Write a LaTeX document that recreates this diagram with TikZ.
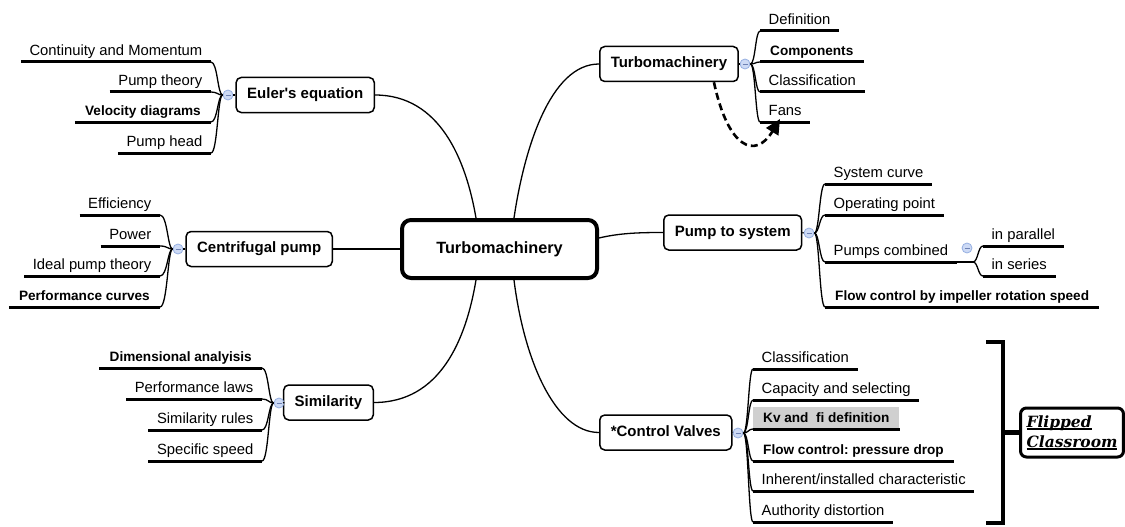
\documentclass[tikz,border=0pt]{standalone}
\usepackage{fontspec}
\setmainfont{Liberation Sans}[Ligatures=TeXOff]
\newfontfamily\flipfont{DejaVu Serif}
\usetikzlibrary{calc,arrows.meta}
\frenchspacing
\definecolor{kvgray}{RGB}{208,208,208}
\definecolor{colfill}{RGB}{205,218,245}
\definecolor{coldraw}{RGB}{150,175,225}
\definecolor{colminus}{RGB}{110,130,180}
\newcommand{\leafnode}[6]{%
  \node[leaf,#5,anchor=#2] (#1) at (#3,#4) {#6};
  \draw[ul] (#1.south west) -- (#1.south east);}
\newcommand{\conL}[2]{\draw[cn] (#1.south east) .. controls (#2c |- #1.south east) and (#2c) .. (#2);}
\newcommand{\conR}[2]{\draw[cn] (#2) .. controls (#2c) and (#2c |- #1.south west) .. (#1.south west);}
\newcommand{\ulw}[1]{\setbox0=\hbox{#1}\rlap{\rule[-2.5pt]{\wd0}{1.3pt}}\box0}
\begin{document}
\begin{tikzpicture}[x=1pt,y=-1pt,
  cn/.style={line width=1.3pt},
  ul/.style={line width=3pt},
  box/.style={draw, line width=1.5pt, rounded corners=5pt, minimum height=35pt, inner xsep=11pt, inner ysep=0pt, text height=11pt, text depth=3.5pt, font=\fontsize{15}{18}\selectfont\bfseries},
  root/.style={draw, line width=4pt, rounded corners=9pt, minimum width=195pt, minimum height=58pt, font=\fontsize{16.3}{19}\selectfont\bfseries},
  leaf/.style={inner ysep=0pt, inner xsep=8.5pt, text height=15pt, text depth=6.5pt, font=\fontsize{14.8}{17}\selectfont},
  lb/.style={inner xsep=10pt, font=\fontsize{13.6}{16}\selectfont\bfseries},
  kv/.style={fill=kvgray},
  collapse/.style={circle, minimum size=10pt, inner sep=0pt, fill=colfill, draw=coldraw, line width=0.8pt,
    path picture={\draw[colminus, line width=0.8pt] ($(path picture bounding box.center)+(-2.5,0)$) -- ++(5,0);}},
  flipbox/.style={draw, line width=3pt, rounded corners=6pt, minimum width=98pt, minimum height=49pt, align=left, inner xsep=6pt,
    font=\flipfont\bfseries\itshape\fontsize{15.5}{20}\selectfont},
  brk/.style={line width=4.5pt},
  dasharrow/.style={line width=2.6pt, dash pattern=on 7pt off 4pt, -{Triangle[length=15pt,width=14pt]}}
]
\useasboundingbox (0,0) rectangle (1125,527);
\fill[white] (0,0) rectangle (1125,527);

% main nodes
\node[root] (C) at (499.5,249) {Turbomachinery};
\node[box,anchor=east] (E) at (375,95) {Euler's equation};
\node[box,anchor=west] (T) at (599,64) {Turbomachinery};
\node[box,anchor=west] (P) at (663,232.5) {Pump to system};
\node[box,anchor=east] (CP) at (333,249) {Centrifugal pump};
\node[box,anchor=east] (S) at (374,402.5) {Similarity};
\node[box,anchor=west] (V) at (599,432.5) {*Control Valves};

% main connectors
\draw[cn] ($(C.north)+(-23.5,0)$) .. controls (466,160) and (440,95) .. (E.east);
\draw[cn] ($(C.north)+(14.5,0)$) .. controls (524,150) and (550,64) .. (T.west);
\draw[cn] ($(C.east)+(0,-11)$) .. controls (620,233) and (640,232.5) .. (P.west);
\draw[cn] (C.west) -- (CP.east);
\draw[cn] ($(C.south)+(-23.5,0)$) .. controls (466,340) and (440,402.5) .. (S.east);
\draw[cn] ($(C.south)+(14.5,0)$) .. controls (524,360) and (555,432.5) .. (V.west);

% collapse markers
\node[collapse] (cE) at (228,95) {};
\node[collapse] (cT) at (745,64) {};
\node[collapse] (cP) at (809,233) {};
\node[collapse] (cPC) at (967,248) {};
\node[collapse] (cCP) at (178,249) {};
\node[collapse] (cS) at (279,403) {};
\node[collapse] (cV) at (738,433) {};
\draw[cn] (E.west) -- (cE.east);
\draw[cn] (T.east) -- (cT.west);
\draw[cn] (P.east) -- (cP.west);
\draw[cn] (CP.west) -- (cCP.east);
\draw[cn] (S.west) -- (cS.east);
\draw[cn] (V.east) -- (cV.west);

\coordinate (jE) at (cE.west);   \coordinate (jEc) at ($(cE.west)+(-5,0)$);
\coordinate (jT) at (cT.east);   \coordinate (jTc) at ($(cT.east)+(5,0)$);
\coordinate (jP) at (cP.east);   \coordinate (jPc) at ($(cP.east)+(5,0)$);
\coordinate (jCP) at (cCP.west); \coordinate (jCPc) at ($(cCP.west)+(-5,0)$);
\coordinate (jS) at (cS.west);   \coordinate (jSc) at ($(cS.west)+(-5,0)$);
\coordinate (jV) at (cV.east);   \coordinate (jVc) at ($(cV.east)+(5,0)$);

% Euler's equation
\leafnode{e1}{south east}{211}{62}{}{Continuity and Momentum}
\leafnode{e2}{south east}{211}{92}{}{Pump theory}
\leafnode{e3}{south east}{211}{122}{lb}{Velocity diagrams}
\leafnode{e4}{south east}{211}{153}{}{Pump head}
\foreach \n in {e1,e2,e3,e4} {\conL{\n}{jE}}

% Turbomachinery (top)
\leafnode{t1}{south west}{760}{31}{}{Definition}
\leafnode{t2}{south west}{760}{62}{lb}{Components}
\leafnode{t3}{south west}{760}{92}{}{Classification}
\leafnode{t4}{south west}{760}{122}{}{Fans}
\foreach \n in {t1,t2,t3,t4} {\conR{\n}{jT}}

% Pump to system
\leafnode{p1}{south west}{825}{184}{}{System curve}
\leafnode{p2}{south west}{825}{215}{}{Operating point}
\leafnode{p3}{south west}{825}{262}{}{Pumps combined}
\leafnode{p4}{south west}{825}{307}{lb}{Flow control by impeller rotation speed}
\foreach \n in {p1,p2,p3,p4} {\conR{\n}{jP}}
\coordinate (jQ) at (973,262); \coordinate (jQc) at (978,262);
\draw[cn] (p3.south east) -- (jQ);
\leafnode{q1}{south west}{983}{246}{}{in parallel}
\leafnode{q2}{south west}{983}{276}{}{in series}
\foreach \n in {q1,q2} {\conR{\n}{jQ}}

% Centrifugal pump
\leafnode{c1}{south east}{160}{215}{}{Efficiency}
\leafnode{c2}{south east}{160}{246}{}{Power}
\leafnode{c3}{south east}{160}{276}{}{Ideal pump theory}
\leafnode{c4}{south east}{160}{307}{lb}{Performance curves}
\foreach \n in {c1,c2,c3,c4} {\conL{\n}{jCP}}

% Similarity
\leafnode{s1}{south east}{262}{368}{lb}{Dimensional analyisis}
\leafnode{s2}{south east}{262}{399}{}{Performance laws}
\leafnode{s3}{south east}{262}{430}{}{Similarity rules}
\leafnode{s4}{south east}{262}{461}{}{Specific speed}
\foreach \n in {s1,s2,s3,s4} {\conL{\n}{jS}}

% Control Valves
\leafnode{v1}{south west}{753}{369}{}{Classification}
\leafnode{v2}{south west}{753}{400}{}{Capacity and selecting}
\leafnode{v3}{south west}{753}{429}{lb,kv}{Kv and\ \ fi definition}
\leafnode{v4}{south west}{753}{461}{lb}{Flow control: pressure drop}
\leafnode{v5}{south west}{753}{491}{}{Inherent/installed characteristic}
\leafnode{v6}{south west}{753}{522}{}{Authority distortion}
\foreach \n in {v1,v2,v3,v4,v5,v6} {\conR{\n}{jV}}

% dashed arrow
\coordinate (arrowend) at (780,119);
\draw[dasharrow] ($(T.south)+(45,0)$) .. controls (728,148) and (755,160) .. (arrowend);

% Flipped classroom bracket
\node[flipbox] (F) at (1072,432.5) {\ulw{Flipped}\\\ulw{Classroom}};
\draw[brk] (986,342) -- (1003,342) -- (1003,523) -- (986,523);
\coordinate (bm) at (1003,432.5);
\draw[brk] (bm) -- (F.west);
\end{tikzpicture}
\end{document}
